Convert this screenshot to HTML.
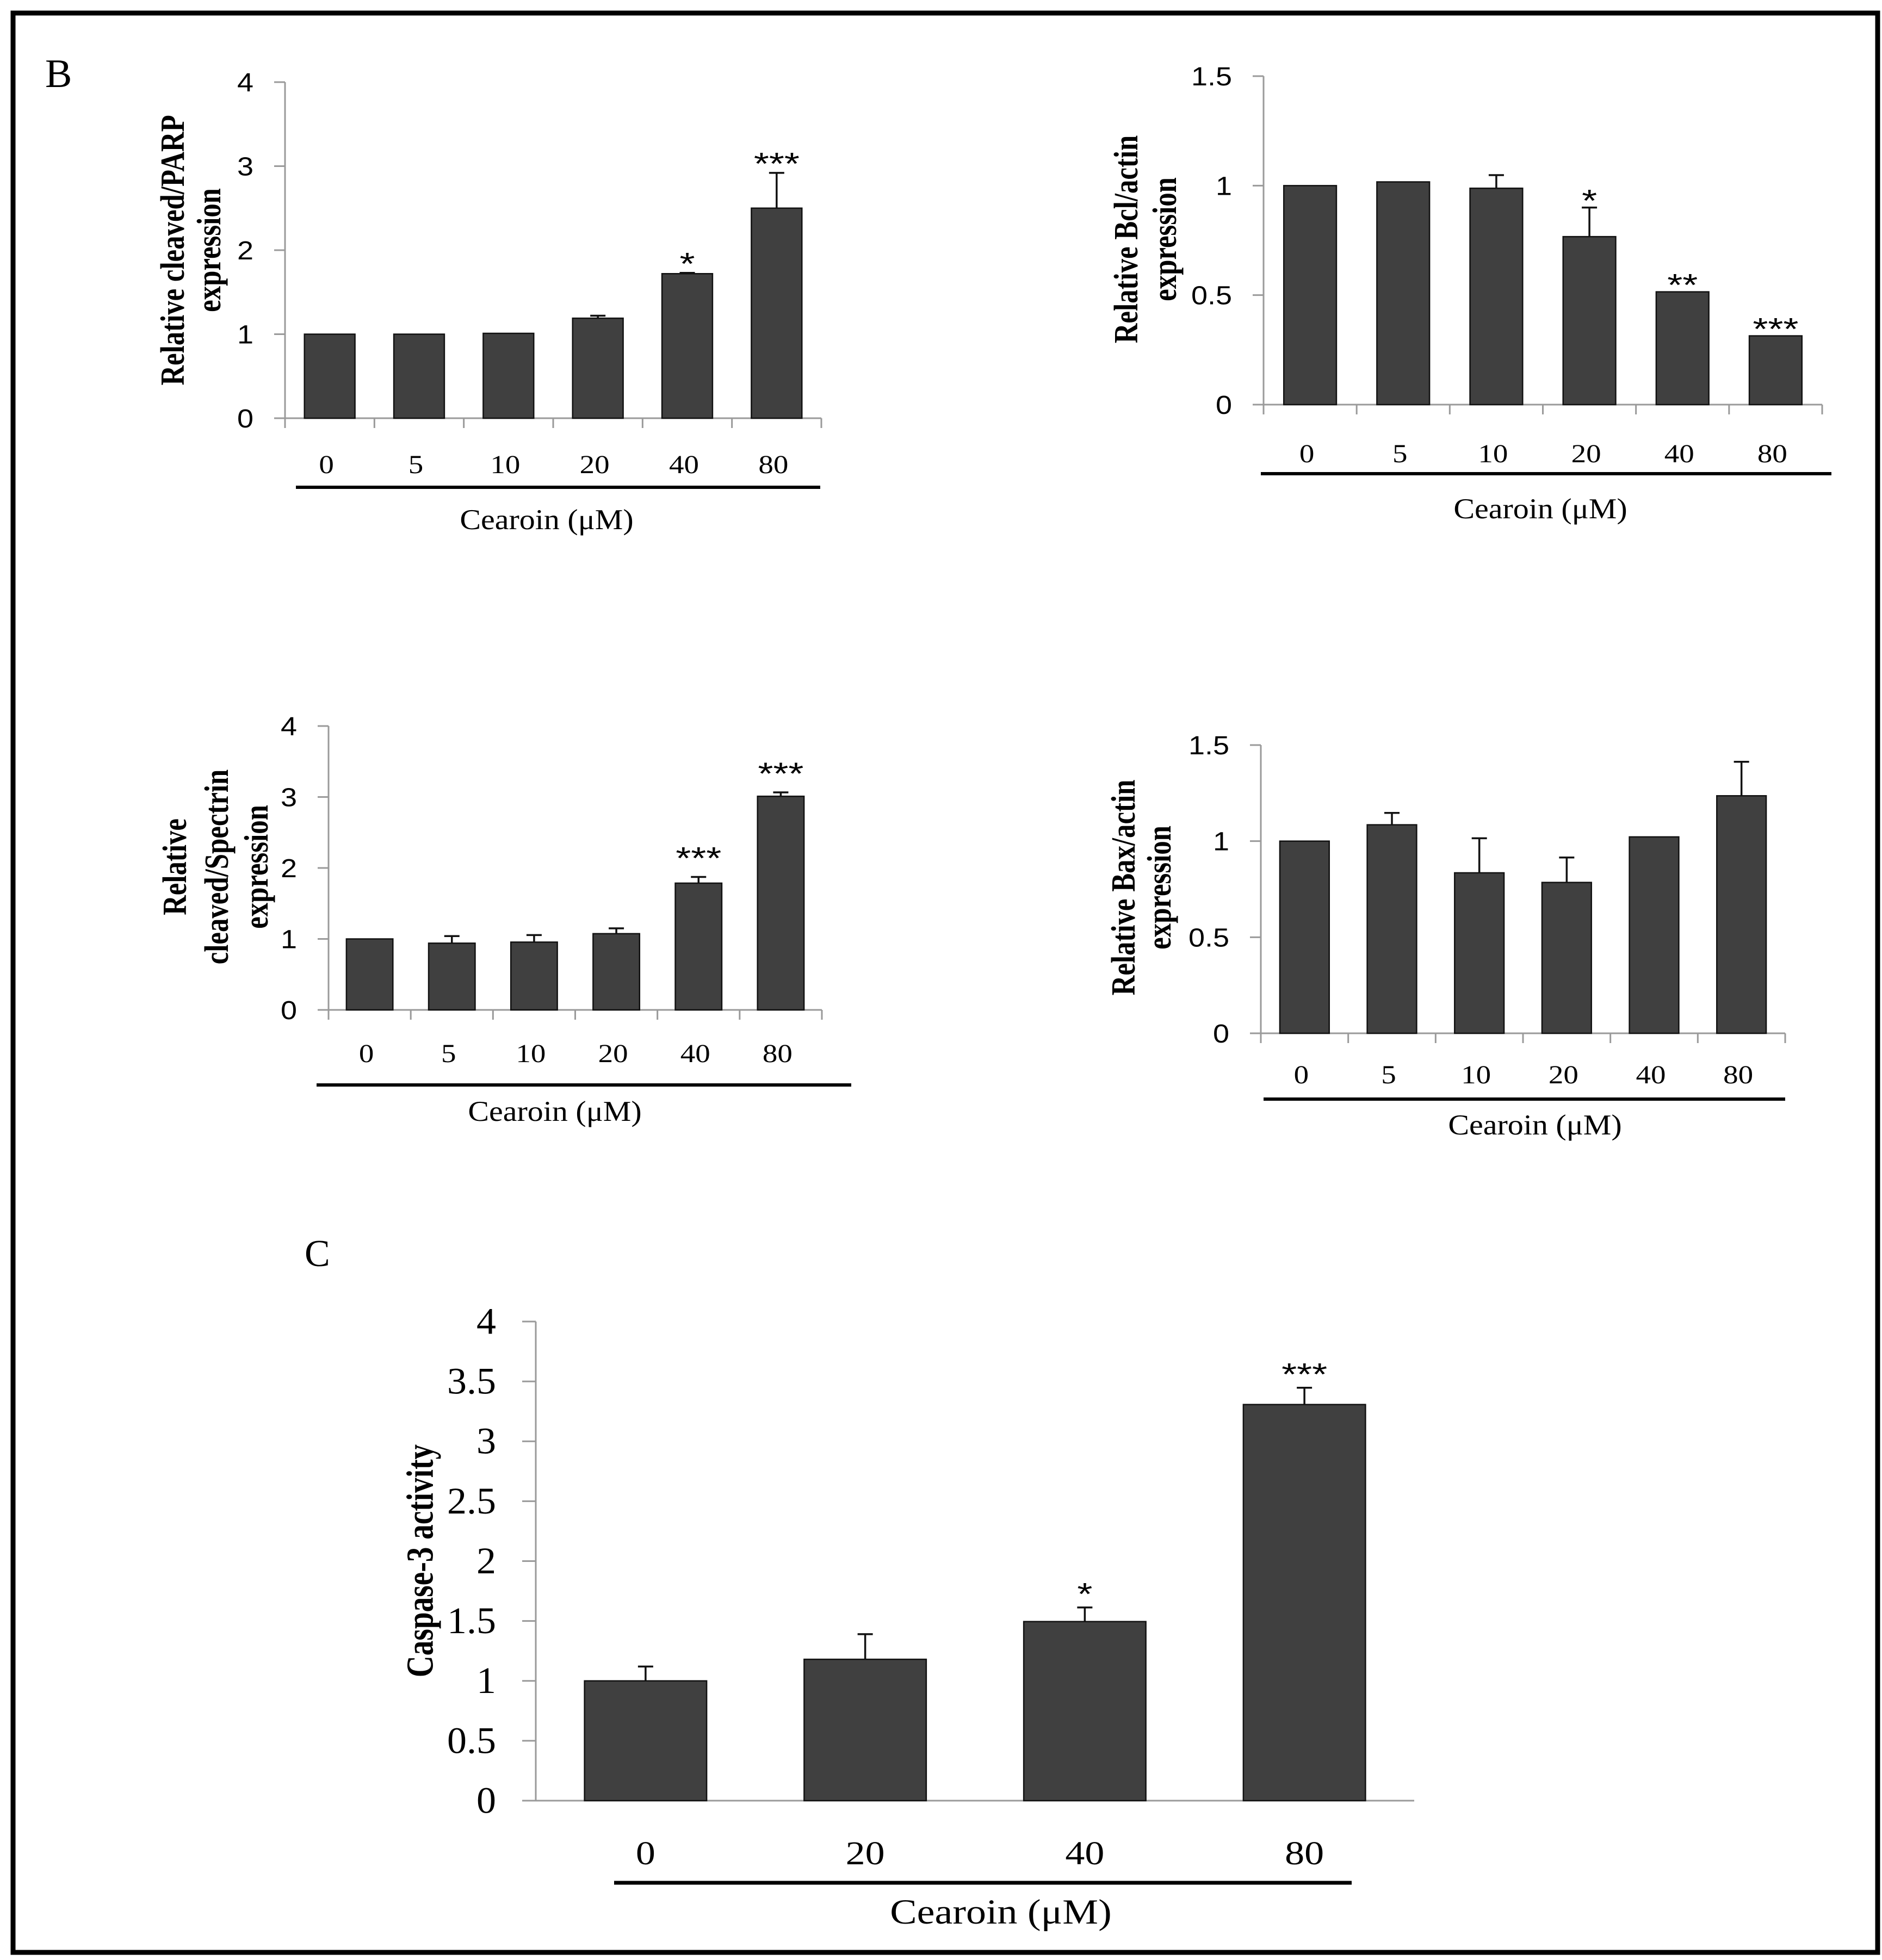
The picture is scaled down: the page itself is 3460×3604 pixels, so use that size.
<!DOCTYPE html>
<html><head><meta charset="utf-8">
<style>
html,body{margin:0;padding:0;background:#fff;}
svg{display:block;}
</style></head>
<body>
<svg id="fig" width="3460" height="3604" viewBox="0 0 3460 3604" xmlns="http://www.w3.org/2000/svg">
<rect x="24" y="24" width="3428" height="3566" fill="#fff" stroke="#000" stroke-width="9"/>
<text x="83" y="160" font-family="Liberation Serif, serif" font-size="74">B</text>
<text x="560" y="2328" font-family="Liberation Serif, serif" font-size="70">C</text>
</svg>
<script>
// ---------- data ----------
const bCategories = ["0","5","10","20","40","80"];
const parpValues = [1.0, 1.0, 1.01, 1.19, 1.72, 2.50];
const parpErrors = [0, 0, 0, 0.03, 0.01, 0.42];
const parpStars = ["", "", "", "", "*", "***"];
const parpTicks = ["0","1","2","3","4"];

const bclValues = [1.0, 1.017, 0.988, 0.767, 0.515, 0.314];
const bclErrors = [0, 0.004, 0.06, 0.133, 0, 0];
const bclStars = ["", "", "", "*", "**", "***"];
const bclTicks = ["0","0.5","1","1.5"];

const spectrinValues = [1.0, 0.94, 0.955, 1.074, 1.786, 3.01];
const spectrinErrors = [0, 0.10, 0.10, 0.075, 0.088, 0.055];
const spectrinStars = ["", "", "", "", "***", "***"];
const spectrinTicks = ["0","1","2","3","4"];

const baxValues = [1.0, 1.085, 0.835, 0.785, 1.022, 1.236];
const baxErrors = [0, 0.062, 0.18, 0.13, 0, 0.177];
const baxStars = ["", "", "", "", "", ""];
const baxTicks = ["0","0.5","1","1.5"];

const cCategories = ["0","20","40","80"];
const caspValues = [1.0, 1.18, 1.495, 3.307];
const caspErrors = [0.12, 0.21, 0.118, 0.14];
const caspStars = ["", "", "*", "***"];
const caspTicks = ["0","0.5","1","1.5","2","2.5","3","3.5","4"];

// ---------- drawing ----------
const NS = "http://www.w3.org/2000/svg";
const svg = document.getElementById('fig');
function mk(tag, parent, attrs){
  const e = document.createElementNS(NS, tag);
  for (const k in attrs) e.setAttribute(k, attrs[k]);
  parent.appendChild(e);
  return e;
}
function txt(parent, x, y, str, fs, fam, sx, sy, rot, anchor, weight, base){
  const t = document.createElementNS(NS, 'text');
  t.setAttribute('transform', `translate(${x},${y}) rotate(${rot}) scale(${sx},${sy})`);
  t.setAttribute('font-size', fs);
  t.setAttribute('font-family', fam);
  t.setAttribute('text-anchor', anchor);
  if (weight) t.setAttribute('font-weight', weight);
  if (base) t.setAttribute('dominant-baseline', base);
  t.textContent = str;
  parent.appendChild(t);
  return t;
}
const SANS = '"Liberation Sans", sans-serif';
const SERIF = '"Liberation Serif", serif';

function chart(c){
  const g = mk('g', svg, {});
  
  
  const n = c.cats.length;
  const band = (c.ax1 - c.ax0) / n;
  const yS = v => c.y0 - (v / c.ymax) * (c.y0 - c.ytop);
  const xC = i => c.ax0 + band * (i + 0.5);
  const tlen = c.tickLen || 20;
  const ya = mk('line', g, {x1:c.ax0, y1:c.ytop, x2:c.ax0, y2:c.y0, stroke:'#9a9a9a', 'stroke-width':3});
  
  
  c.ticks.forEach(tk => {
    const v = parseFloat(tk), y = yS(v);
    const tl = mk('line', g, {x1:c.ax0-tlen, y1:y, x2:c.ax0, y2:y, stroke:'#9a9a9a', 'stroke-width':3});
    
    
    const lb = txt(g, c.ax0 - c.ylGap, y, tk, c.ylFs, c.ylFam, 1, c.ylSy, 0, 'end', null, 'central');
    
    
  });
  const xa = mk('line', g, {x1:c.ax0-tlen, y1:c.y0, x2:c.ax1, y2:c.y0, stroke:'#9a9a9a', 'stroke-width':3});
  
  
  if (c.catTicks){
    for (let i = 0; i <= n; i++){
      const x = c.ax0 + band * i;
      const ct = mk('line', g, {x1:x, y1:c.y0, x2:x, y2:c.y0+18, stroke:'#9a9a9a', 'stroke-width':3});
      
      
    }
  }
  const bw = band * c.bwFrac;
  c.vals.forEach((v, i) => {
    const x = xC(i);
    const b = mk('rect', g, {x:x-bw/2, y:yS(v), width:bw, height:c.y0-yS(v), fill:'#404040', stroke:'#111', 'stroke-width':2.5});
    
    
    const e = c.errs[i];
    const topY = yS(v + e);
    if (e > 0.005){
      const el = mk('path', g, {d:`M${x},${yS(v)} V${topY} M${x-14},${topY} H${x+14}`, stroke:'#111', 'stroke-width':3.5, fill:'none'});
      
      
    }
    if (c.stars[i]){
      const st = txt(g, x, topY - c.starGap + 0.57*c.starFs*0.8, c.stars[i], c.starFs, SANS, 1, 0.8, 0, 'middle');
      
      
    }
    const cl = txt(g, x + c.xlOff, c.xlY, c.cats[i], c.xlFs, SERIF, 1, c.xlSy, 0, 'middle', null, 'central');
    
    
  });
  const ul = mk('line', g, {x1:c.line[0], y1:c.line[2], x2:c.line[1], y2:c.line[2], stroke:'#000', 'stroke-width':c.lineW});
  
  
  const xt = txt(g, c.xtX, c.xtY, c.xtStr, c.xtFs, SERIF, 1, c.xtSy, 0, 'middle');
  
  
  c.title.forEach((s, i) => {
    const yt = txt(g, c.titleX[i], c.titleY, s, c.titleFs, SERIF, c.titleAlong, 1, -90, 'middle', 'bold', 'central');
    
    
  });
}

const bCommon = {cats:bCategories, bwFrac:0.565, ylFs:54, ylFam:SANS, ylSy:0.9, ylGap:58, catTicks:true,
  starFs:72, xlFs:55, xlSy:0.86, xlOff:-6, lineW:6, xtStr:'Cearoin (μM)', xtFs:58, xtSy:0.91,
  titleFs:62, titleAlong:0.82};

chart(Object.assign({}, bCommon, {name:'chart-parp', ax0:524, ax1:1510, y0:769, ytop:151, ymax:4,
  ticks:parpTicks, vals:parpValues, errs:parpErrors, stars:parpStars, starGap:30,
  xlY:855, line:[544,1508,896], xtX:1005, xtY:973,
  title:['Relative cleaved/PARP','expression'], titleX:[318,385], titleY:460}));

chart(Object.assign({}, bCommon, {name:'chart-bcl', ax0:2323, ax1:3350, y0:744, ytop:140, ymax:1.5,
  ticks:bclTicks, vals:bclValues, errs:bclErrors, stars:bclStars, starGap:26,
  xlY:835, line:[2318,3367,871], xtX:2832, xtY:953,
  title:['Relative  Bcl/actin','expression'], titleX:[2071,2142], titleY:440}));

chart(Object.assign({}, bCommon, {name:'chart-spectrin', ax0:604, ax1:1511, y0:1857, ytop:1335, ymax:4,
  ticks:spectrinTicks, vals:spectrinValues, errs:spectrinErrors, stars:spectrinStars, starGap:48,
  xlY:1938, line:[582,1565,1995], xtX:1020, xtY:2061,
  title:['Relative','cleaved/Spectrin','expression'], titleX:[322,399,472], titleY:1594}));

chart(Object.assign({}, bCommon, {name:'chart-bax', ax0:2318, ax1:3282, y0:1900, ytop:1370, ymax:1.5,
  ticks:baxTicks, vals:baxValues, errs:baxErrors, stars:baxStars, starGap:30,
  xlY:1977, line:[2323,3282,2021], xtX:2822, xtY:2086,
  title:['Relative  Bax/actin','expression'], titleX:[2066,2132], titleY:1632}));

chart({name:'chart-caspase3', cats:cCategories, bwFrac:0.556, ax0:985, ax1:2600, y0:3311, ytop:2430, ymax:4,
  ticks:caspTicks, vals:caspValues, errs:caspErrors, stars:caspStars, starGap:38, starFs:72,
  ylFs:72, ylFam:SERIF, ylSy:0.95, ylGap:73, tickLen:25, catTicks:false,
  xlY:3408, xlFs:72, xlSy:0.85, xlOff:0, lineW:7, line:[1129,2485,3462],
  xtStr:'Cearoin  (μM)', xtX:1840, xtY:3537, xtFs:74, xtSy:0.88,
  title:['Caspase-3 activity'], titleX:[772], titleY:2870, titleFs:70, titleAlong:0.79});
</script>
</body></html>
